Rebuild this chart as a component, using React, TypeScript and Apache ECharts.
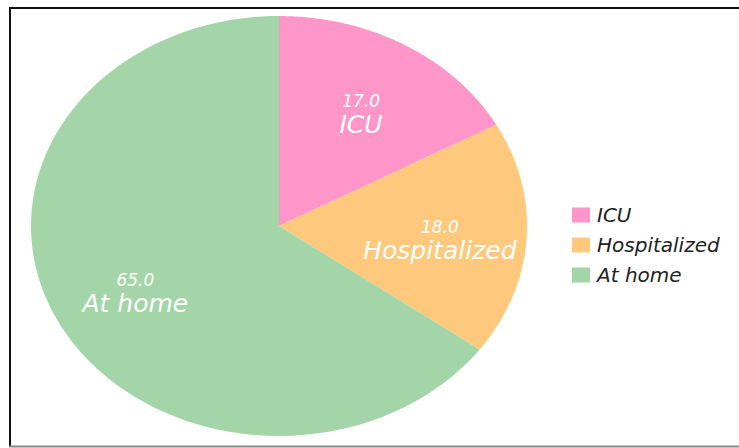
import React, { useEffect, useRef } from "react";
import * as echarts from "echarts";

const categories = ["ICU", "Hospitalized", "At home"];
const values = [17.0, 18.0, 65.0];
const colors = ["#FE96C9", "#FEC97C", "#A3D5A8"];

const FONT = "'DejaVu Sans', sans-serif";

export default function App() {
  const ref = useRef<HTMLDivElement>(null);
  useEffect(() => {
    if (!ref.current) return;
    const chart = echarts.init(ref.current, undefined, { renderer: "svg" });
    const total = values.reduce((a, b) => a + b, 0);
    const starts: number[] = [];
    let acc = 0;
    values.forEach((v) => {
      starts.push(acc);
      acc += v;
    });
    const cx = 279, cy = 226, rx = 248, ry = 210;
    const pt = (f: number, r: number) => {
      const th = Math.PI / 2 - 2 * Math.PI * f;
      return [cx + r * rx * Math.cos(th), cy - r * ry * Math.sin(th)];
    };
    const series = categories.map((name, i) => ({
      type: "custom",
      name,
      coordinateSystem: "none",
      itemStyle: { color: colors[i] },
      data: [[values[i]]],
      renderItem: () => {
        const f0 = starts[i] / total;
        const f1 = (starts[i] + values[i]) / total;
        const pts: number[][] = [[cx, cy]];
        const N = 120;
        for (let k = 0; k <= N; k++) pts.push(pt(f0 + ((f1 - f0) * k) / N, 1));
        const [lx, ly] = pt((f0 + f1) / 2, 0.65);
        return {
          type: "group",
          children: [
            { type: "polygon", shape: { points: pts }, style: { fill: colors[i] } },
            {
              type: "text",
              x: lx,
              y: ly + 5,
              style: {
                text: `{v|${values[i].toFixed(1)}}\n{n|${name}}`,
                align: "center",
                verticalAlign: "middle",
                fill: "#fff",
                fontFamily: FONT,
                fontStyle: "italic",
                rich: {
                  v: { fontSize: 17, fill: "#fff", fontFamily: FONT, fontStyle: "italic", lineHeight: 21, align: "center" },
                  n: { fontSize: 25, fill: "#fff", fontFamily: FONT, fontStyle: "italic", lineHeight: 26, align: "center" },
                },
              },
            },
          ],
        };
      },
    }));
    chart.setOption({
      animation: false,
      color: colors,
      legend: {
        orient: "vertical",
        left: 567,
        top: 200,
        itemWidth: 18,
        itemHeight: 15,
        itemGap: 10,
        icon: "rect",
        data: categories,
        textStyle: {
          fontSize: 20,
          color: "#222",
          fontFamily: FONT,
          fontStyle: "italic",
          padding: [0, 0, 0, 2],
        },
      },
      graphic: [
        { type: "line", shape: { x1: 10, y1: 7, x2: 10, y2: 447 }, style: { stroke: "#111", lineWidth: 2 } },
        { type: "line", shape: { x1: 9, y1: 8, x2: 739, y2: 8 }, style: { stroke: "#111", lineWidth: 2 } },
        { type: "line", shape: { x1: 9, y1: 446.5, x2: 739, y2: 446.5 }, style: { stroke: "#888", lineWidth: 2 } },
      ],
      series,
    });
    return () => chart.dispose();
  }, []);
  return (
    <div
      ref={ref}
      style={{ position: "fixed", left: 0, top: 0, width: 739, height: 448, background: "#fff" }}
    />
  );
}
